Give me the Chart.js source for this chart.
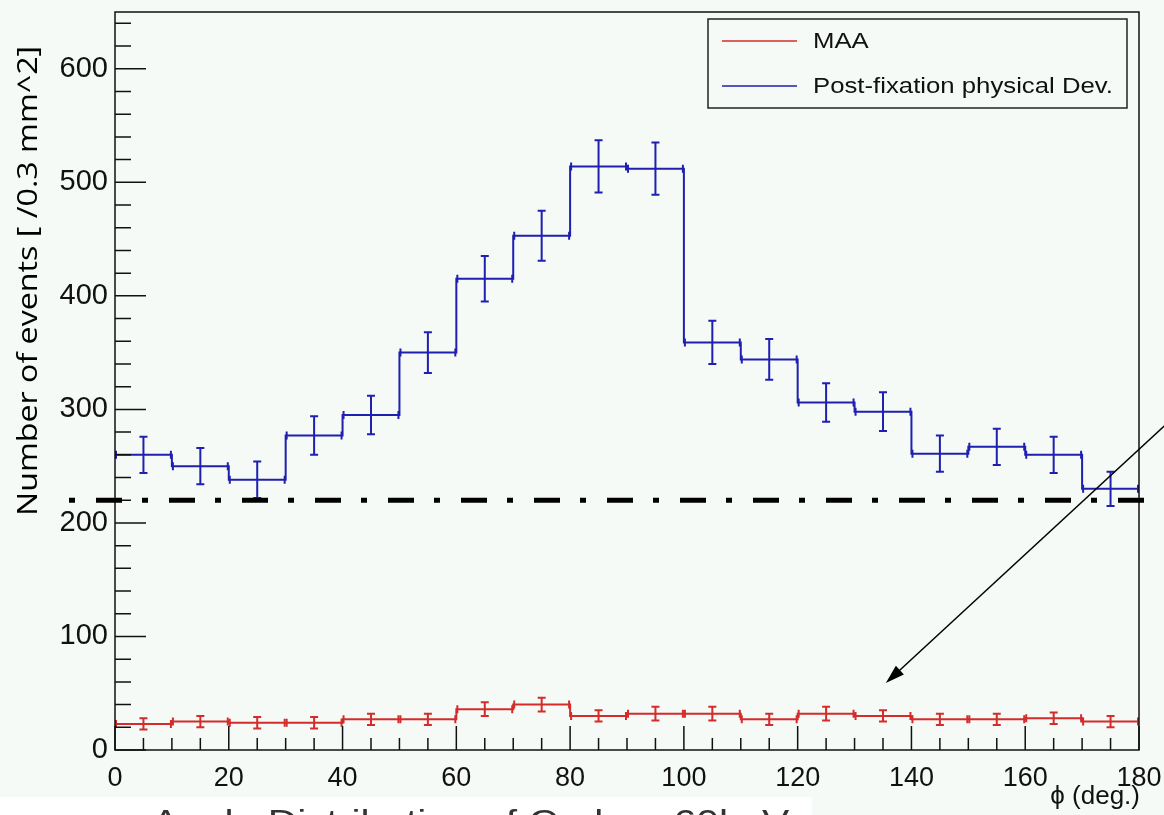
<!DOCTYPE html>
<html>
<head>
<meta charset="utf-8">
<script src="https://cdn.jsdelivr.net/npm/chart.js@4"></script>
<style>
  html, body { margin: 0; padding: 0; background: #f5faf7; }
  canvas { display: block; }
</style>
</head>
<body>
<canvas id="histChart" width="1164" height="815"></canvas>
<script>
// bin edges 0..180 in steps of 10 (phi, deg.)
const binEdges = [0, 10, 20, 30, 40, 50, 60, 70, 80, 90, 100, 110, 120, 130, 140, 150, 160, 170, 180];
const maaCounts = [23, 25, 24, 24, 27, 27, 36, 40, 30, 32, 32, 27, 32, 30, 27, 27, 28, 25];
const maaErrors = [5, 5, 5, 5, 5, 5, 6, 6, 5, 6, 6, 5, 6, 5, 5, 5, 5, 5];
const postCounts = [260, 250, 238, 277, 295, 350, 415, 453, 514, 512, 359, 344, 306, 298, 261, 267, 260, 230];
const postErrors = [16, 16, 16, 17, 17, 18, 20, 22, 23, 23, 19, 18, 17, 17, 16, 16, 16, 15];
const xTicks = [0, 20, 40, 60, 80, 100, 120, 140, 160, 180];
const yTicks = [0, 100, 200, 300, 400, 500, 600];
const cutLevel = 220;
// arrow annotation in data units: from (185, 288) to (135.5, 59)
const arrowFrom = [185, 288];
const arrowTo = [135.5, 59];

const RED = '#d42b2b';
const BLUE = '#1f1fb0';
const BG = '#f5faf7';

function stepPoints(counts) {
    const pts = counts.map((c, i) => ({ x: binEdges[i], y: c }));
    pts.push({ x: binEdges[binEdges.length - 1], y: counts[counts.length - 1] });
    return pts;
}

// text stretched horizontally, like the exported ROOT canvas
function wideText(c, text, x, y, sx) {
    c.save();
    c.translate(x, y);
    c.scale(sx, 1);
    c.fillText(text, 0, 0);
    c.restore();
}

const rootStyle = {
    id: 'rootStyle',
    beforeDraw(chart) {
        const c = chart.ctx;
        c.save();
        c.fillStyle = BG;
        c.fillRect(0, 0, chart.width, chart.height);
        c.restore();
    },
    afterDatasetsDraw(chart) {
        const c = chart.ctx;
        const xs = chart.scales.x, ys = chart.scales.y;
        const a = chart.chartArea;
        c.save();

        // error bars and bin end marks
        const sets = [[maaCounts, maaErrors, RED], [postCounts, postErrors, BLUE]];
        sets.forEach(([counts, errs, col]) => {
            c.strokeStyle = col;
            c.lineWidth = 2;
            counts.forEach((v, i) => {
                const xc = xs.getPixelForValue((binEdges[i] + binEdges[i + 1]) / 2);
                const x0 = xs.getPixelForValue(binEdges[i]);
                const x1 = xs.getPixelForValue(binEdges[i + 1]);
                const yv = ys.getPixelForValue(v);
                const yl = ys.getPixelForValue(v - errs[i]);
                const yh = ys.getPixelForValue(v + errs[i]);
                c.beginPath();
                c.moveTo(xc, yl); c.lineTo(xc, yh);
                c.moveTo(xc - 4, yl); c.lineTo(xc + 4, yl);
                c.moveTo(xc - 4, yh); c.lineTo(xc + 4, yh);
                c.moveTo(x0 + 1, yv - 4); c.lineTo(x0 + 1, yv + 4);
                c.moveTo(x1 - 1, yv - 4); c.lineTo(x1 - 1, yv + 4);
                c.stroke();
            });
        });

        // frame
        c.strokeStyle = '#111';
        c.lineWidth = 1.5;
        c.strokeRect(a.left, a.top, a.right - a.left, a.bottom - a.top);

        // inner ticks
        c.beginPath();
        for (let v = 0; v <= 180; v += 5) {
            const px = xs.getPixelForValue(v);
            const len = v % 20 === 0 ? 24 : 12;
            c.moveTo(px, a.bottom); c.lineTo(px, a.bottom - len);
        }
        for (let v = 0; v <= 640; v += 20) {
            const py = ys.getPixelForValue(v);
            const len = v % 100 === 0 ? 31 : 16;
            c.moveTo(a.left, py); c.lineTo(a.left + len, py);
        }
        c.stroke();

        // dash-dot cut line
        const yc = ys.getPixelForValue(cutLevel);
        c.strokeStyle = '#000';
        c.lineWidth = 5;
        c.setLineDash([6, 21, 26, 20]);
        c.beginPath();
        c.moveTo(69, yc); c.lineTo(chart.width, yc);
        c.stroke();
        c.setLineDash([]);

        // arrow
        const ax0 = xs.getPixelForValue(arrowFrom[0]), ay0 = ys.getPixelForValue(arrowFrom[1]);
        const ax1 = xs.getPixelForValue(arrowTo[0]), ay1 = ys.getPixelForValue(arrowTo[1]);
        const ang = Math.atan2(ay1 - ay0, ax1 - ax0);
        c.lineWidth = 1.5;
        c.beginPath();
        c.moveTo(ax0, ay0); c.lineTo(ax1 - 10 * Math.cos(ang), ay1 - 10 * Math.sin(ang));
        c.stroke();
        c.fillStyle = '#000';
        c.beginPath();
        c.moveTo(ax1, ay1);
        c.lineTo(ax1 - 20 * Math.cos(ang - 0.3), ay1 - 20 * Math.sin(ang - 0.3));
        c.lineTo(ax1 - 20 * Math.cos(ang + 0.3), ay1 - 20 * Math.sin(ang + 0.3));
        c.closePath();
        c.fill();

        // legend
        c.fillStyle = BG;
        c.fillRect(708, 19, 419, 89);
        c.strokeStyle = '#222';
        c.lineWidth = 1.5;
        c.strokeRect(708, 19, 419, 89);
        c.strokeStyle = RED;
        c.beginPath(); c.moveTo(722, 41); c.lineTo(797, 41); c.stroke();
        c.strokeStyle = BLUE;
        c.beginPath(); c.moveTo(722, 86); c.lineTo(797, 86); c.stroke();
        c.fillStyle = '#111';
        c.font = '22px "Liberation Sans", Arial, sans-serif';
        c.textBaseline = 'middle';
        c.textAlign = 'left';
        wideText(c, chart.data.datasets[0].label, 813, 42, 1.17);
        wideText(c, chart.data.datasets[1].label, 813, 87, 1.17);

        // y title
        c.save();
        c.translate(29, 281);
        c.rotate(-Math.PI / 2);
        c.scale(1.15, 1);
        c.font = '28px "Open Sans", sans-serif';
        c.textAlign = 'center';
        c.textBaseline = 'middle';
        c.fillStyle = '#000';
        c.fillText('Number of events [ /0.3 mm^2]', 0, 0);
        c.restore();

        // x title
        c.font = '26px "Liberation Sans Narrow", "Liberation Sans", sans-serif';
        c.textAlign = 'right';
        c.textBaseline = 'middle';
        c.fillStyle = '#111';
        c.fillText('\u03D5 (deg.)', 1140, 797);

        // cropped caption strip at the bottom
        c.fillStyle = '#ffffff';
        c.fillRect(0, 797, 812, 18);
        c.fillStyle = '#333';
        c.font = '34px "Liberation Sans", sans-serif';
        c.textAlign = 'left';
        c.textBaseline = 'alphabetic';
        wideText(c, 'Angle Distribution of Carbon 60keV', 152, 833, 1.2);

        c.restore();
    }
};

const ctx = document.getElementById('histChart').getContext('2d');

const chart = new Chart(ctx, {
    type: 'line',
    data: {
        datasets: [{
            label: 'MAA',
            data: stepPoints(maaCounts),
            borderColor: RED,
            borderWidth: 2,
            stepped: 'before',
            pointRadius: 0,
            fill: false
        }, {
            label: 'Post-fixation physical Dev.',
            data: stepPoints(postCounts),
            borderColor: BLUE,
            borderWidth: 2,
            stepped: 'before',
            pointRadius: 0,
            fill: false
        }]
    },
    options: {
        responsive: false,
        animation: false,
        layout: { padding: { top: 12, right: 25, left: 0, bottom: 0 } },
        plugins: {
            legend: { display: false },
            tooltip: { enabled: false }
        },
        scales: {
            x: {
                type: 'linear',
                min: 0,
                max: 180,
                afterBuildTicks(scale) { scale.ticks = xTicks.map(v => ({ value: v })); },
                afterFit(scale) {
                    scale.height = 65;
                    scale.paddingLeft = 0;
                    scale.paddingRight = 0;
                },
                grid: { display: false, drawTicks: false },
                border: { display: false },
                ticks: {
                    padding: 12,
                    color: '#111',
                    maxRotation: 0,
                    font: { family: '"Liberation Sans Narrow", "Liberation Sans", sans-serif', size: 27 }
                }
            },
            y: {
                min: 0,
                max: 650,
                afterBuildTicks(scale) { scale.ticks = yTicks.map(v => ({ value: v })); },
                afterFit(scale) {
                    scale.width = 115;
                    scale.paddingTop = 0;
                    scale.paddingBottom = 0;
                },
                grid: { display: false, drawTicks: false },
                border: { display: false },
                ticks: {
                    padding: 7,
                    color: '#111',
                    font: { family: '"Liberation Sans", Arial, sans-serif', size: 29 }
                }
            }
        }
    },
    plugins: [rootStyle]
});
</script>
</body>
</html>
